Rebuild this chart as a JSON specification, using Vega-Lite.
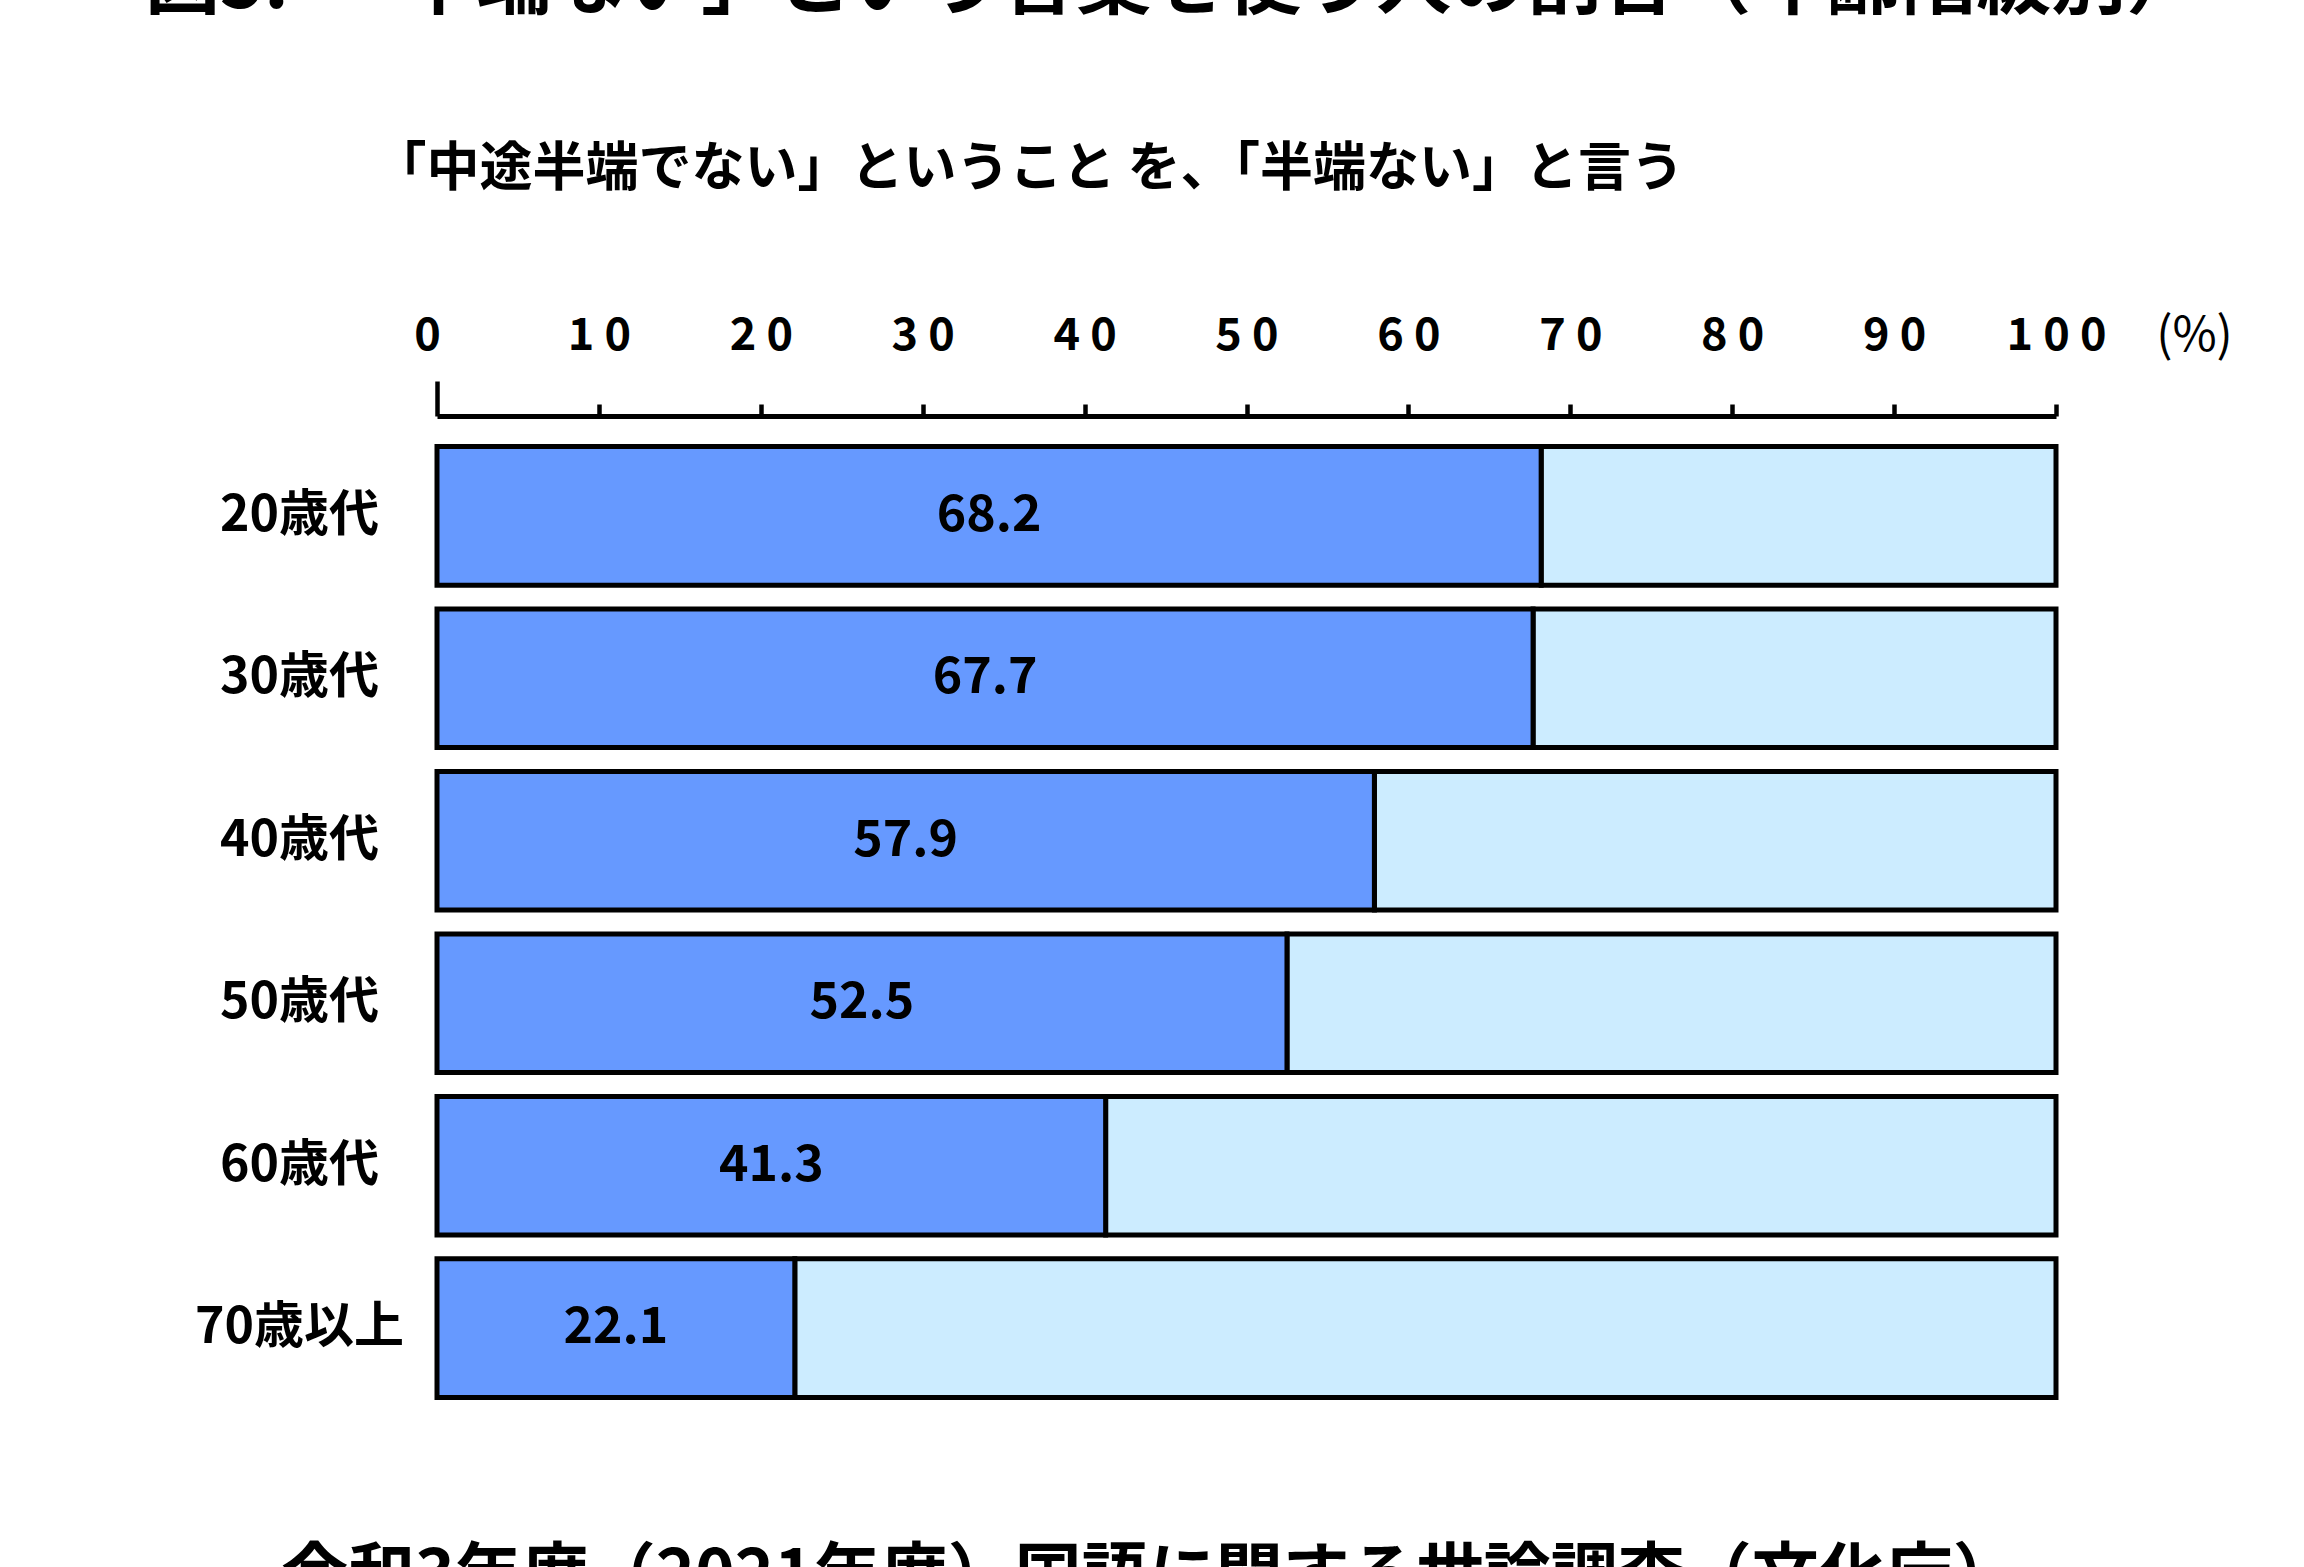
{
  "$schema": "https://vega.github.io/schema/vega-lite/v6.json",
  "width": 1619,
  "height": 1012,
  "autosize": "none",
  "padding": {"left": 437, "top": 416, "right": 248, "bottom": 139},
  "background": "white",
  "title": {
    "text": "図5.　「半端ない」という言葉を使う人の割合（年齢階級別）",
    "anchor": "start",
    "frame": "group",
    "dx": -292,
    "offset": 119,
    "font": "Noto Sans CJK JP",
    "fontSize": 75,
    "fontWeight": "bold",
    "color": "black"
  },
  "data": {
    "values": [
      {"age": "20歳代", "value": 68.2},
      {"age": "30歳代", "value": 67.7},
      {"age": "40歳代", "value": 57.9},
      {"age": "50歳代", "value": 52.5},
      {"age": "60歳代", "value": 41.3},
      {"age": "70歳以上", "value": 22.1}
    ]
  },
  "encoding": {
    "y": {
      "field": "age",
      "type": "nominal",
      "sort": null,
      "scale": {"paddingInner": 0.147, "paddingOuter": 0.188},
      "axis": {
        "orient": "left",
        "domain": false,
        "ticks": false,
        "tickSize": 0,
        "labelPadding": 138,
        "labelAlign": "center",
        "labelBaseline": "middle",
        "labelLimit": 0,
        "labelFont": "Noto Sans CJK JP",
        "labelFontSize": 50,
        "labelFontWeight": "bold",
        "labelColor": "black",
        "title": "「中途半端でない」ということ を、「半端ない」と言う",
        "titleAngle": 0,
        "titleX": -64,
        "titleY": -247,
        "titleAlign": "left",
        "titleBaseline": "middle",
        "titleLimit": 0,
        "titleFont": "Noto Sans CJK JP",
        "titleFontSize": 53,
        "titleFontWeight": "bold",
        "titleColor": "black"
      }
    }
  },
  "layer": [
    {
      "mark": {"type": "bar", "color": "#CCECFF", "stroke": "black", "strokeWidth": 5},
      "encoding": {
        "x": {
          "field": "value",
          "type": "quantitative",
          "scale": {"domain": [0, 100], "nice": false},
          "axis": {
            "orient": "top",
            "values": [0, 10, 20, 30, 40, 50, 60, 70, 80, 90, 100],
            "grid": false,
            "domainColor": "black",
            "domainWidth": 5,
            "tickColor": "black",
            "tickWidth": 4.5,
            "tickSize": {"condition": {"test": "datum.value === 0", "value": 35}, "value": 12},
            "labelPadding": {"condition": {"test": "datum.value === 0", "value": 23}, "value": 46},
            "labelOffset": {"condition": {"test": "datum.value === 0", "value": -10}, "value": 0},
            "labelFlush": false,
            "labelOverlap": false,
            "labelFont": "Noto Sans CJK JP",
            "labelFontSize": 45,
            "labelFontWeight": "bold",
            "labelColor": "black",
            "labelExpr": "join(split(datum.label, ''), ' ')",
            "title": "(%)",
            "titleX": 1757,
            "titleY": -80,
            "titleAngle": 0,
            "titleAlign": "center",
            "titleBaseline": "middle",
            "titleFont": "Noto Sans CJK JP",
            "titleFontSize": 48,
            "titleFontWeight": "normal",
            "titleColor": "black"
          }
        },
        "x2": {"datum": 100}
      }
    },
    {
      "mark": {"type": "bar", "color": "#6699FF", "stroke": "black", "strokeWidth": 5},
      "encoding": {
        "x": {
          "field": "value",
          "type": "quantitative",
          "scale": {"domain": [0, 100], "nice": false},
          "axis": null
        },
        "x2": {"datum": 0}
      }
    },
    {
      "mark": {
        "type": "text",
        "font": "Noto Sans CJK JP",
        "fontSize": 50,
        "fontWeight": "bold",
        "color": "black",
        "align": "center",
        "baseline": "middle"
      },
      "encoding": {
        "x": {
          "field": "value",
          "type": "quantitative",
          "scale": {"domain": [0, 200], "nice": false},
          "axis": {
            "orient": "bottom",
            "labels": false,
            "ticks": false,
            "domain": false,
            "grid": false,
            "title": "令和3年度（2021年度）国語に関する世論調査（文化庁）",
            "titleX": 713,
            "titleY": 169,
            "titleAngle": 0,
            "titleAlign": "center",
            "titleBaseline": "alphabetic",
            "titleLimit": 0,
            "titleFont": "Noto Sans CJK JP",
            "titleFontSize": 67,
            "titleFontWeight": "bold",
            "titleColor": "black"
          }
        },
        "text": {"field": "value", "type": "quantitative", "format": ".1f"}
      }
    }
  ],
  "resolve": {"scale": {"x": "independent"}},
  "config": {"view": {"stroke": null}}
}
